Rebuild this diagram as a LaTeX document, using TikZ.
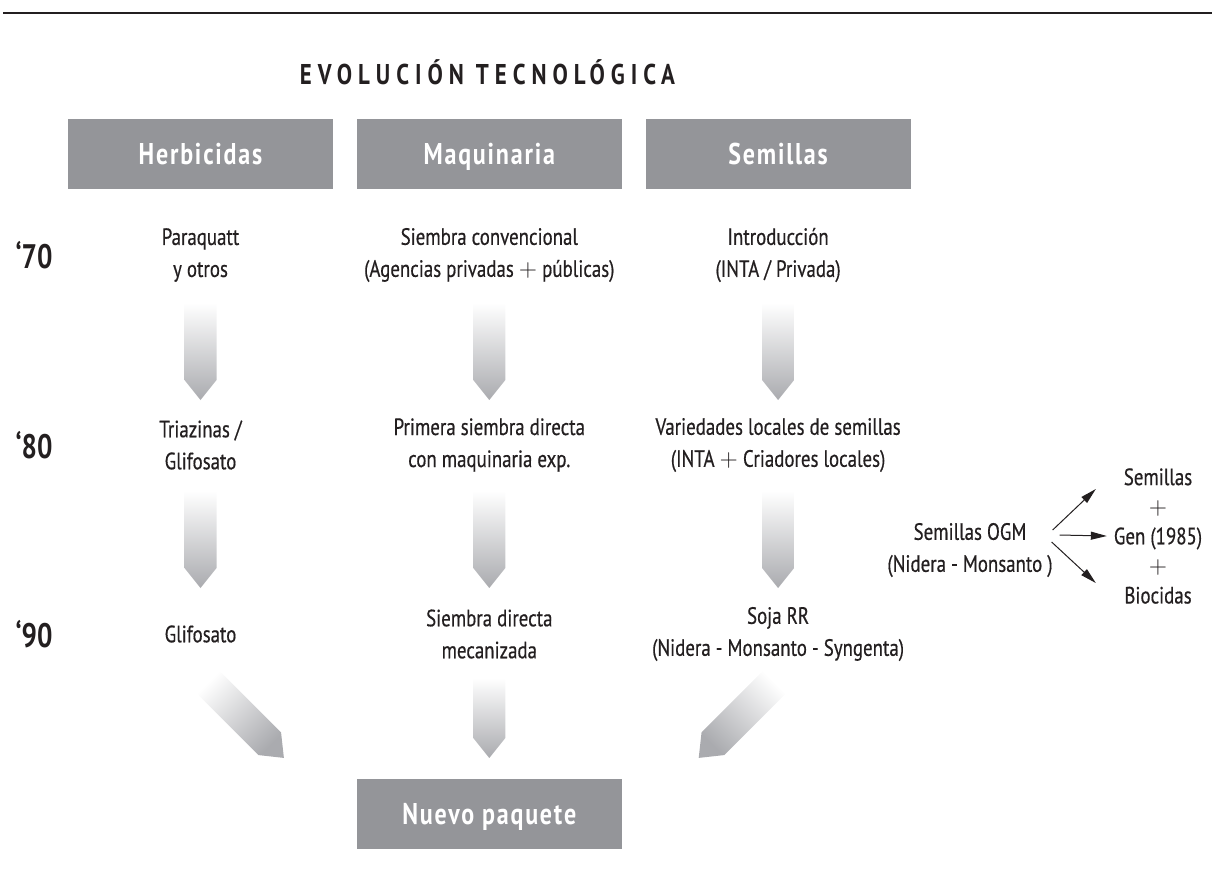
\documentclass[tikz,border=0pt]{standalone}
\usepackage{fontspec}
\setmainfont{PT Sans}[FakeStretch=0.8, UprightFeatures={FakeBold=0.5}]
\usetikzlibrary{arrows.meta,positioning}

\definecolor{cajagris}{RGB}{148,149,153}
\definecolor{flechagris}{RGB}{170,171,175}
\definecolor{tinta}{RGB}{35,31,32}

\tikzset{
    angsombra/.store in=\angsombra, angsombra=0,
    flecha/.pic={
        \pgfmathsetmacro\medio{#1/2}
        \shade[top color=white, bottom color=flechagris, shading angle=\angsombra]
            (-16,-\medio) -- (16,-\medio) -- (16,\medio-20) -- (0,\medio) -- (-16,\medio-20) -- cycle;
    }
}

\begin{document}
\begin{tikzpicture}[
    x=0.5pt, y=-0.5pt,
    node distance=11.5pt,
    every node/.style={text=tinta},
    titulo/.style={font=\fontsize{14.3}{16}\selectfont\bfseries\addfontfeature{LetterSpace=21}},
    cabecera/.style={fill=cajagris, minimum width=132.5pt, minimum height=35pt, inner sep=0pt, text height=10.5pt, text depth=0pt, text=white, font=\fontsize{15}{18}\selectfont\bfseries\addfontfeature{LetterSpace=6}},
    texto/.style={align=center, font=\fontsize{11.8}{16}\selectfont},
    anio/.style={font=\fontsize{17}{18}\selectfont\bfseries},
    flechita/.style={-{Triangle[length=8pt,width=4pt]}, line width=0.5pt, draw=tinta},
    raya/.style={line width=1pt, draw=tinta}
]
\useasboundingbox (0,0) rectangle (1215,875);
\draw[raya] (3,12.7) -- (1212,12.7);

\node[titulo] (titulo) at (487.5,72) {EVOLUCIÓN TECNOLÓGICA};

\node[cabecera] (herb) at (200.5,154) {Herbicidas};
\node[cabecera, right=of herb] (maq) {Maquinaria};
\node[cabecera, right=of maq] (sem) {Semillas};

\node[anio] (a70) at (34,255) {‘70};
\node[anio] (a80) at (34,445) {‘80};
\node[anio] (a90) at (34,634) {‘90};
\coordinate (fila4) at (0,814);

\node[texto] (herb70) at (herb |- a70) {Paraquatt\\y otros};
\node[texto] (maq70) at (maq |- a70) {Siembra convencional\\(Agencias privadas $+$ públicas)};
\node[texto] (sem70) at (sem |- a70) {Introducción\\(INTA / Privada)};

\node[texto] (herb80) at (herb |- a80) {Triazinas /\\Glifosato};
\node[texto] (maq80) at (maq |- a80) {Primera siembra directa\\con maquinaria exp.};
\node[texto] (sem80) at (sem |- a80) {Variedades locales de semillas\\(INTA $+$ Criadores locales)};

\node[texto] (herb90) at (herb |- a90) {Glifosato};
\node[texto] (maq90) at (maq |- a90) {Siembra directa\\mecanizada};
\node[texto] (sem90) at (sem |- a90) {Soja RR\\(Nidera - Monsanto - Syngenta)};

\node[cabecera] (nuevo) at (maq |- fila4) {Nuevo paquete};

\node[texto] (ogm) at (970,550) {Semillas OGM\\(Nidera - Monsanto )};
\node[texto, font=\fontsize{11.8}{14.8}\selectfont] (pila) at (1158,536) {Semillas\\$+$\\Gen (1985)\\$+$\\Biocidas};

% flechas grises
\pic at ([shift={(0,96.5)}]herb70.center) {flecha=97};
\pic at ([shift={(0,96.5)}]maq70.center) {flecha=97};
\pic at ([shift={(0,96.5)}]sem70.center) {flecha=97};
\pic at ([shift={(0,94.5)}]herb80.center) {flecha=97};
\pic at ([shift={(0,94.5)}]maq80.center) {flecha=97};
\pic at ([shift={(0,94.5)}]sem80.center) {flecha=97};
\pic at ([shift={(0,84)}]maq90.center) {flecha=80};
\pic[rotate=45, angsombra=45] at ([shift={(44.5,85)}]herb90.center) {flecha=110};
\pic[rotate=-45, angsombra=-45] at ([shift={(-40.5,85)}]sem90.center) {flecha=110};

\draw[flechita] ([shift={(-7,-20)}]ogm.east) -- ([shift={(-11,-47)}]pila.west);
\draw[flechita] ([shift={(0,-15)}]ogm.east) -- (pila.west);
\draw[flechita] ([shift={(-8,-8)}]ogm.east) -- ([shift={(-11,47)}]pila.west);
\end{tikzpicture}
\end{document}
